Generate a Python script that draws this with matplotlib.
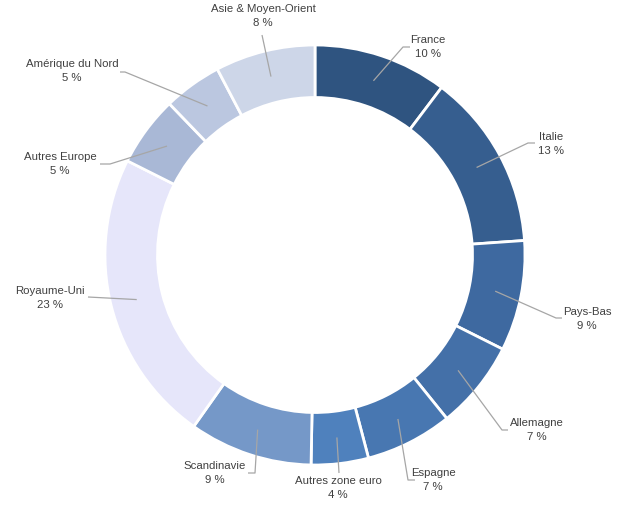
import numpy as np
import matplotlib
matplotlib.use("Agg")
import matplotlib.pyplot as plt

# ---- data ----
categories = ["France", "Italie", "Pays-Bas", "Allemagne", "Espagne",
              "Autres zone euro", "Scandinavie", "Royaume-Uni",
              "Autres Europe", "Amérique du Nord", "Asie & Moyen-Orient"]
shares = [10.3, 13.6, 8.5, 6.8, 6.7, 4.4, 9.5, 22.6, 5.4, 4.5, 7.7]
pct_labels = ["10 %", "13 %", "9 %", "7 %", "7 %", "4 %", "9 %", "23 %",
              "5 %", "5 %", "8 %"]
colors = ["#2F5480", "#365E8F", "#3E69A0", "#4470A8", "#4877B1", "#4F81BD",
          "#7598C8", "#E6E6FA", "#A9B8D6", "#BBC7E0", "#CDD6E8"]

# ---- layout (pixel positions of label blocks, elbows) ----
W, H = 633, 505
cx, cy, R = 315, 255, 210
label_pos = [(428, 47), (551, 144), (587, 319), (537, 430), (433, 480),
             (338, 488), (215, 473), (50, 298), (60, 164), (72, 71), (263, 16)]
elbows = [(403, 47), (528, 143), (556, 318), (502, 430), (408, 480),
          (339, 473), (255, 473), (88, 297), (110, 164), (125, 72), (262, 35)]
stubs = [410, 535, 562, 508, 415, None, 248, None, 100, 120, None]

fig = plt.figure(figsize=(W / 100, H / 100), dpi=100)
ax = fig.add_axes([0, 0, 1, 1])
ax.axis("off")

def py(y):
    return H - y

center = (cx, py(cy))
wedges, _ = ax.pie(shares, colors=colors, startangle=90, counterclock=False,
                   radius=R, center=center,
                   wedgeprops=dict(width=R * 0.25, edgecolor="white", linewidth=2))
ax.set_xlim(0, W)
ax.set_ylim(0, H)
ax.set_aspect("equal")

line_col = "#A6A6A6"
for w, cat, pct, lp, el, st in zip(wedges, categories, pct_labels, label_pos, elbows, stubs):
    mid = np.deg2rad((w.theta1 + w.theta2) / 2)
    ax_x = center[0] + 0.875 * R * np.cos(mid)
    ax_y = center[1] + 0.875 * R * np.sin(mid)
    xs = [ax_x, el[0]]
    ys = [ax_y, py(el[1])]
    if st is not None:
        xs.append(st)
        ys.append(py(el[1]))
    ax.plot(xs, ys, color=line_col, lw=0.9, solid_capstyle="butt")
    ax.text(lp[0], py(lp[1]), f"{cat}\n{pct}", ha="center", va="center",
            fontsize=8.2, color="#404040", family=["Liberation Sans", "DejaVu Sans"],
            linespacing=1.6)

fig.savefig("out.png", dpi=100)
